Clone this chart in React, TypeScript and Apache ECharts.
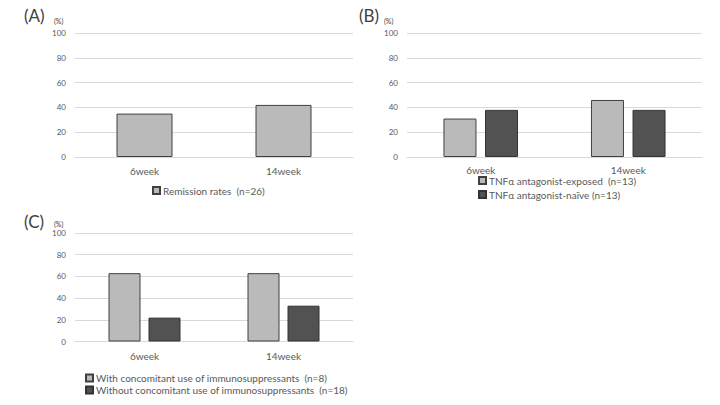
import React, { useEffect, useRef } from "react";
import * as echarts from "echarts";

const categories = ["6week", "14week"];
const yTicks = [0, 20, 40, 60, 80, 100];

const panelANames = ["Remission rates  (n=26)"];
const panelAValues = [35, 42];

const panelBNames = ["TNFα antagonist-exposed  (n=13)", "TNFα antagonist-naïve (n=13)"];
const panelBExposed = [31, 46];
const panelBNaive = [38, 38];

const panelCNames = [
  "With concomitant use of immunosuppressants  (n=8)",
  "Without concomitant use of immunosuppressants  (n=18)",
];
const panelCWith = [63, 63];
const panelCWithout = [22, 33];

const FONT = "Lato, 'Open Sans', sans-serif";
const TEXT = "#595959";
const LIGHT = "#bababa";
const DARK = "#525252";
const BORDER = "#404040";
const GRID = "#d9d9d9";

export default function App() {
  const ref = useRef<HTMLDivElement>(null);
  useEffect(() => {
    if (!ref.current) return;
    const chart = echarts.init(ref.current, undefined, { renderer: "svg" });
    const grids = [
      { left: 75, top: 33, width: 278, height: 124 },
      { left: 407, top: 33, width: 295, height: 124 },
      { left: 75, top: 233, width: 278, height: 108.5 },
    ];
    const xAxes = grids.map((_, i) => ({
      type: "category" as const,
      gridIndex: i,
      data: categories,
      axisTick: { show: false },
      axisLine: { lineStyle: { color: GRID, width: 1 } },
      axisLabel: { color: TEXT, fontSize: 10, fontFamily: FONT, margin: i === 1 ? 8 : 9 },
    }));
    const yAxes = grids.map((_, i) => ({
      type: "value" as const,
      gridIndex: i,
      min: yTicks[0],
      max: yTicks[yTicks.length - 1],
      interval: 20,
      axisLine: { show: false },
      axisTick: { show: false },
      splitLine: { lineStyle: { color: GRID, width: 1 } },
      axisLabel: { color: TEXT, fontSize: 8, fontFamily: FONT, margin: 9 },
    }));
    const lightStyle = { color: LIGHT, borderColor: BORDER, borderWidth: 1 };
    const darkStyle = { color: DARK, borderColor: "#333333", borderWidth: 1 };
    const series = [
      { name: panelANames[0], type: "bar" as const, xAxisIndex: 0, yAxisIndex: 0, data: panelAValues, barWidth: 56, itemStyle: lightStyle },
      { name: panelBNames[0], type: "bar" as const, xAxisIndex: 1, yAxisIndex: 1, data: panelBExposed, barWidth: 33, barGap: "26%", itemStyle: lightStyle },
      { name: panelBNames[1], type: "bar" as const, xAxisIndex: 1, yAxisIndex: 1, data: panelBNaive, barWidth: 33, barGap: "26%", itemStyle: darkStyle },
      { name: panelCNames[0], type: "bar" as const, xAxisIndex: 2, yAxisIndex: 2, data: panelCWith, barWidth: 32, barGap: "25%", itemStyle: lightStyle },
      { name: panelCNames[1], type: "bar" as const, xAxisIndex: 2, yAxisIndex: 2, data: panelCWithout, barWidth: 32, barGap: "25%", itemStyle: darkStyle },
    ];
    const legendBase = {
      orient: "vertical" as const,
      icon: "rect",
      itemWidth: 7,
      itemHeight: 7,
      itemGap: 3,
      selectedMode: false,
      textStyle: { color: TEXT, fontSize: 10, lineHeight: 11, fontFamily: FONT, padding: [0, 0, 0, -2] },
      padding: 0,
    };
    const titleText = (x: number, y: number, t: string, size: number) => ({
      type: "text" as const,
      left: x,
      top: y,
      style: { text: t, fill: "#404040", fontSize: size, fontFamily: FONT },
    });
    chart.setOption({
      animation: false,
      grid: grids,
      xAxis: xAxes,
      yAxis: yAxes,
      series,
      legend: [
        { ...legendBase, data: panelANames, left: 152, top: 185 },
        { ...legendBase, data: panelBNames, left: 478, top: 175, itemGap: 3 },
        { ...legendBase, data: panelCNames, left: 85, top: 372.5, itemGap: 1 },
      ],
      graphic: [
        titleText(24, 7, "(A)", 17),
        titleText(54, 17, "(%)", 7),
        titleText(359, 7, "(B)", 17),
        titleText(384, 17, "(%)", 7),
        titleText(24, 213, "(C)", 17),
        titleText(54, 220, "(%)", 7),
      ],
    });
    return () => chart.dispose();
  }, []);
  return (
    <div
      ref={ref}
      style={{ position: "absolute", left: 0, top: 0, width: 720, height: 405, background: "#ffffff" }}
    />
  );
}
